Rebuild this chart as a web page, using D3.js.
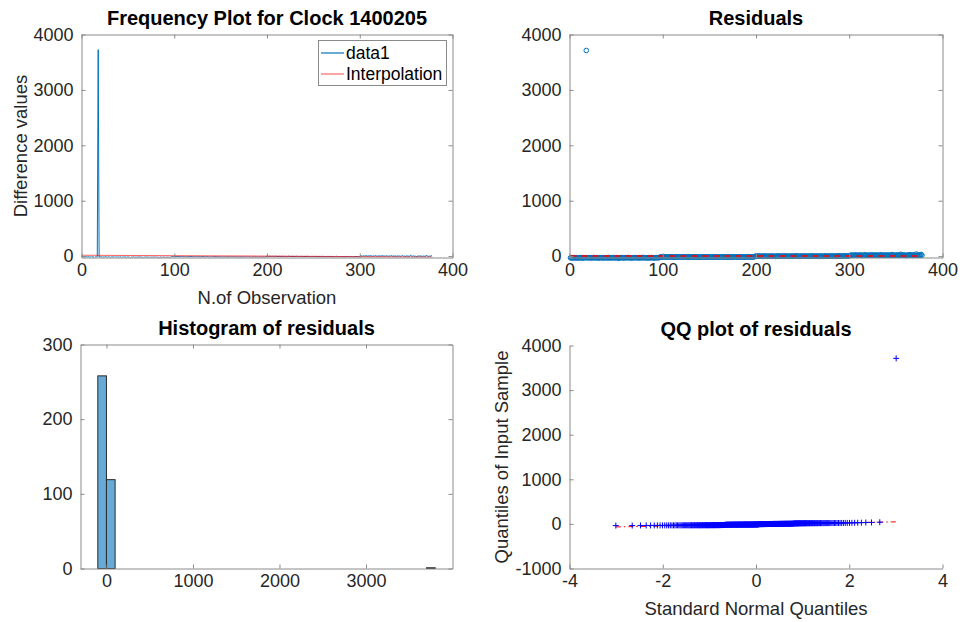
<!DOCTYPE html>
<html>
<head>
<meta charset="utf-8">
<script src="https://cdn.jsdelivr.net/npm/d3@7"></script>
<style>
  body { margin: 0; background: #fff; }
  svg { display: block; }
</style>
</head>
<body>
<svg id="fig" width="963" height="622"></svg>
<script>
// Residuals of the frequency differences after the linear fit (one per observation)
const residuals = [
  -31, -28, -34, -29, -26, -33, -30, -27, -35, -29,
  -32, -25, -30, -37, -28, -31, -27, 3712, -33, -29,
  -26, -30, -34, -28, -31, -24, -29, -32, -27, -30,
  -35, -28, -31, -26, -30, -33, -29, -27, -32, -28,
  -30, -25, -34, -29, -31, -28, -26, -33, -30, -27,
  -29, -32, -38, -28, -30, -26, -31, -29, -33, -27,
  -30, -28, -25, -32, -29, -31, -34, -27, -30, -28,
  -26, -31, -29, -33, -28, -30, -27, -32, -24, -29,
  -31, -28, -30, -35, -27, -29, -32, -26, -30, -28,
  -33, -29, -27, -31, -28, -30,
  -17, -14, -19, -15, -12, -18, -16, -13, -20, -15,
  -16, -11, -18, -14, -17, -15, -21, -13, -16, -19,
  -14, -16, -12, -18, -15, -17, -13, -16, -20, -14,
  -15, -18, -16, -12, -17, -14, -19, -15, -16, -13,
  -17, -15, -22, -14, -16, -18, -12, -15, -17, -16,
  -14, -19, -15, -13, -17, -16, -18, -14, -15, -20,
  -16, -13, -17, -15, -19, -14, -16, -12, -18, -15,
  -17, -14, -16, -19, -13, -15, -18, -16, -14, -17,
  -15, -12, -18, -16, -14, -17, -20, -15, -13, -16,
  -18, -14, -16, -15, -19, -13, -17, -15, -16, -14,
  -18, -15,
  -3, 1, -5, -2, 2, -4, -1, 0, -6, -2,
  3, -3, -1, -5, 1, -2, -4, 2, -3, -1,
  -2, 0, -6, -3, 4, -1, -4, 1, -2, -5,
  2, -3, -1, 3, -4, -2, 0, -5, -1, 1,
  -2, -4, 2, -3, -1, 5, -2, -6, 0, -3,
  1, -1, -4, 3, -2, -3, 0, -5, 2, -1,
  -3, 4, -2, -1, 1, -4, -2, 3, -6, 0,
  -1, 2, -3, -5, 1, -2, 6, -4, -1, 2,
  -2, 0, 3, -3, -1, 1, -4, 4, -2, 2,
  5, -1, 2, -3, 0, 3, -2, 7, 1, -1,
  0, 4,
  14, 17, 11, 19, 13, 16, 21, 12, 15, 18,
  13, 20, 16, 10, 17, 14, 23, 15, 12, 18,
  16, 13, 19, 15, 22, 11, 17, 14, 20, 16,
  12, 18, 15, 25, 13, 17, 14, 19, 16, 11,
  21, 15, 18, 13, 16, 28, 14, 17, 12, 19,
  15, 20, 13, 16, 33, 18, 14, 22, 15, 17,
  9, 16, 19, 14, 26, 15, 18, 13, 21, 16,
  14, 37, 17, 12, 19, 15, 30, 16
];

// Interpolation (linear fit) value at the first and at the last observation
const fitEnds = [16, -19];

// Axis ticks
const observationTicks = [0, 100, 200, 300, 400];
const valueTicks = [0, 1000, 2000, 3000, 4000];
const histXTicks = [0, 1000, 2000, 3000];
const histYTicks = [0, 100, 200, 300];
const qqXTicks = [-4, -2, 0, 2, 4];
const qqYTicks = [-1000, 0, 1000, 2000, 3000, 4000];

// Histogram bin layout
const binWidth = 100;
const binStart = -100;
const binEnd = 3800;

const legendLabels = ["data1", "Interpolation"];

const FONT = '"Liberation Sans", Arial, Helvetica, sans-serif';
const TICK_SIZE = 18;
const LABEL_SIZE = 18.5;
const TITLE_SIZE = 20;
const AXIS = "#8a8a8a";
const TXT = "#262626";
const BLUE = "#0072BD";
const plain = d => String(d);

const svg = d3.select("#fig");

// ---------- shared helpers ----------
function styleAxis(g) {
  g.attr("font-family", FONT).attr("font-size", TICK_SIZE);
  g.select(".domain").attr("stroke", AXIS).attr("stroke-width", 1);
  g.selectAll(".tick line").attr("stroke", AXIS).attr("stroke-width", 1);
  g.selectAll(".tick text").attr("fill", TXT);
}

function frame(p, x, y, xt, yt, boxed) {
  const gb = svg.append("g").attr("transform", `translate(0,${p.y1})`)
    .call(d3.axisBottom(x).tickValues(xt).tickFormat(plain)
      .tickSizeInner(-4).tickSizeOuter(0).tickPadding(6));
  styleAxis(gb);
  const gl = svg.append("g").attr("transform", `translate(${p.x0},0)`)
    .call(d3.axisLeft(y).tickValues(yt).tickFormat(plain)
      .tickSizeInner(-4).tickSizeOuter(0).tickPadding(8));
  styleAxis(gl);
  if (boxed) {
    const gt = svg.append("g").attr("transform", `translate(0,${p.y0})`)
      .call(d3.axisTop(x).tickValues(xt).tickSizeInner(-4).tickSizeOuter(0).tickFormat(""));
    styleAxis(gt);
    const gr = svg.append("g").attr("transform", `translate(${p.x1},0)`)
      .call(d3.axisRight(y).tickValues(yt).tickSizeInner(-4).tickSizeOuter(0).tickFormat(""));
    styleAxis(gr);
  }
}

function title(p, text) {
  svg.append("text").attr("x", (p.x0 + p.x1) / 2).attr("y", p.y0 - 10)
    .attr("text-anchor", "middle").attr("font-family", FONT)
    .attr("font-size", TITLE_SIZE).attr("font-weight", "bold").attr("fill", "#000")
    .text(text);
}

function xLabel(p, text) {
  svg.append("text").attr("x", (p.x0 + p.x1) / 2).attr("y", p.y1 + 46)
    .attr("text-anchor", "middle").attr("font-family", FONT)
    .attr("font-size", LABEL_SIZE).attr("fill", TXT).text(text);
}

function yLabel(p, text, dx) {
  svg.append("text")
    .attr("transform", `translate(${p.x0 - dx},${(p.y0 + p.y1) / 2}) rotate(-90)`)
    .attr("text-anchor", "middle").attr("font-family", FONT)
    .attr("font-size", LABEL_SIZE).attr("fill", TXT).text(text);
}

function clipFor(p, id) {
  svg.append("clipPath").attr("id", id).append("rect")
    .attr("x", p.x0).attr("y", p.y0 - 1).attr("width", p.x1 - p.x0).attr("height", p.y1 - p.y0 + 1);
  return `url(#${id})`;
}

// Inverse of the standard normal CDF (Acklam's rational approximation)
function normInv(pr) {
  const a = [-39.69683028665376, 220.9460984245205, -275.9285104469687, 138.3577518672690, -30.66479806614716, 2.506628277459239];
  const b = [-54.47609879822406, 161.5858368580409, -155.6989798598866, 66.80131188771972, -13.28068155288572];
  const c = [-0.007784894002430293, -0.3223964580411365, -2.400758277161838, -2.549732539343734, 4.374664141464968, 2.938163982698783];
  const d = [0.007784695709041462, 0.3224671290700398, 2.445134137142996, 3.754408661907416];
  const pl = 0.02425;
  let q, r;
  if (pr < pl) {
    q = Math.sqrt(-2 * Math.log(pr));
    return (((((c[0]*q+c[1])*q+c[2])*q+c[3])*q+c[4])*q+c[5]) / ((((d[0]*q+d[1])*q+d[2])*q+d[3])*q+1);
  }
  if (pr <= 1 - pl) {
    q = pr - 0.5; r = q * q;
    return (((((a[0]*r+a[1])*r+a[2])*r+a[3])*r+a[4])*r+a[5])*q / (((((b[0]*r+b[1])*r+b[2])*r+b[3])*r+b[4])*r+1);
  }
  q = Math.sqrt(-2 * Math.log(1 - pr));
  return -(((((c[0]*q+c[1])*q+c[2])*q+c[3])*q+c[4])*q+c[5]) / ((((d[0]*q+d[1])*q+d[2])*q+d[3])*q+1);
}

const n = residuals.length;
const obsIndex = d3.range(1, n + 1);
const fitAt = i => fitEnds[0] + (fitEnds[1] - fitEnds[0]) * (i - 1) / (n - 1);
const observed = residuals.map((r, k) => r + fitAt(k + 1));

// ---------- panel 1: frequency plot ----------
const P1 = { x0: 81.5, x1: 452.5, y0: 34.5, y1: 257.5 };
const x1s = d3.scaleLinear().domain([0, 400]).range([P1.x0, P1.x1]);
const y1s = d3.scaleLinear().domain([-25, 4000]).range([P1.y1, P1.y0]);
const clip1 = clipFor(P1, "c1");

svg.append("path").datum(obsIndex)
  .attr("clip-path", clip1)
  .attr("fill", "none").attr("stroke", BLUE).attr("stroke-width", 1)
  .attr("d", d3.line().x(i => x1s(i)).y(i => y1s(observed[i - 1])));

svg.append("path").datum([1, n])
  .attr("clip-path", clip1)
  .attr("fill", "none").attr("stroke", "#ff0000").attr("stroke-opacity", 0.6).attr("stroke-width", 1.2)
  .attr("d", d3.line().x(i => x1s(i)).y(i => y1s(fitAt(i))));

frame(P1, x1s, y1s, observationTicks, valueTicks, true);
title(P1, "Frequency Plot for Clock 1400205");
xLabel(P1, "N.of Observation");
yLabel(P1, "Difference values", 55);

// legend
const lg = svg.append("g").attr("font-family", FONT).attr("font-size", 17.5);
lg.append("rect").attr("x", 318.5).attr("y", 40.5).attr("width", 128).attr("height", 45)
  .attr("fill", "#fff").attr("stroke", AXIS).attr("stroke-width", 1);
const legendColors = [BLUE, "rgba(255,0,0,0.6)"];
legendLabels.forEach((lab, k) => {
  const yy = 53 + k * 21;
  lg.append("line").attr("x1", 321).attr("x2", 344).attr("y1", yy).attr("y2", yy)
    .attr("stroke", legendColors[k]).attr("stroke-width", 1.2);
  lg.append("text").attr("x", 346).attr("y", yy + 6).attr("fill", "#000").text(lab);
});

// ---------- panel 2: residuals ----------
const P2 = { x0: 569.5, x1: 942.5, y0: 34.5, y1: 257.5 };
const x2s = d3.scaleLinear().domain([0, 400]).range([P2.x0, P2.x1]);
const y2s = d3.scaleLinear().domain([-25, 4000]).range([P2.y1, P2.y0]);

svg.append("g").selectAll("circle").data(obsIndex).join("circle")
  .attr("cx", i => x2s(i)).attr("cy", i => y2s(residuals[i - 1])).attr("r", 2.3)
  .attr("fill", "none").attr("stroke", BLUE).attr("stroke-width", 1);

svg.append("path").datum([1, n])
  .attr("fill", "none").attr("stroke", "#ff0000").attr("stroke-width", 1.5)
  .attr("stroke-dasharray", "6,5")
  .attr("d", d3.line().x(i => x2s(i)).y(() => y2s(0)));

frame(P2, x2s, y2s, observationTicks, valueTicks, true);
title(P2, "Residuals");

// ---------- panel 3: histogram ----------
const P3 = { x0: 80.5, x1: 452.5, y0: 344.5, y1: 568.5 };
const x3s = d3.scaleLinear().domain([-300, 4000]).range([P3.x0, P3.x1]);
const y3s = d3.scaleLinear().domain([0, 300]).range([P3.y1, P3.y0]);
const bins = d3.bin().domain([binStart, binEnd])
  .thresholds(d3.range(binStart + binWidth, binEnd, binWidth))(residuals)
  .filter(b => b.length > 0);

svg.append("g").selectAll("rect").data(bins).join("rect")
  .attr("x", b => x3s(b.x0)).attr("width", b => x3s(b.x1) - x3s(b.x0))
  .attr("y", b => y3s(b.length)).attr("height", b => y3s(0) - y3s(b.length))
  .attr("fill", "#66AAD7").attr("stroke", "#2b2b2b").attr("stroke-width", 1);

frame(P3, x3s, y3s, histXTicks, histYTicks, true);
title(P3, "Histogram of residuals");

// ---------- panel 4: QQ plot ----------
const P4 = { x0: 569.5, x1: 942.5, y0: 345.5, y1: 568.5 };
const x4s = d3.scaleLinear().domain([-4, 4]).range([P4.x0, P4.x1]);
const y4s = d3.scaleLinear().domain([-1000, 4000]).range([P4.y1, P4.y0]);
const sorted = residuals.slice().sort(d3.ascending);
const zq = sorted.map((_, k) => normInv((k + 0.5) / n));

// reference line through the first and third quartiles
const q1 = d3.quantile(sorted, 0.25), q3 = d3.quantile(sorted, 0.75);
const z1 = normInv(0.25), z3 = normInv(0.75);
const slope = (q3 - q1) / (z3 - z1);
const refY = z => q1 + slope * (z - z1);
const zMin = zq[0], zMax = zq[n - 1];
const refLine = d3.line().x(z => x4s(z)).y(z => y4s(refY(z)));
svg.append("path").datum([zMin, zMax])
  .attr("fill", "none").attr("stroke", "#ff0000").attr("stroke-width", 1)
  .attr("stroke-dasharray", "5,3,1.5,3").attr("d", refLine);
svg.append("path").datum([z1, z3])
  .attr("fill", "none").attr("stroke", "#ff0000").attr("stroke-width", 1).attr("d", refLine);

svg.append("g").selectAll("path").data(sorted).join("path")
  .attr("transform", (v, k) => `translate(${x4s(zq[k])},${y4s(v)})`)
  .attr("d", "M-3,0H3M0,-3V3")
  .attr("fill", "none").attr("stroke", "#0000ff").attr("stroke-width", 1);

frame(P4, x4s, y4s, qqXTicks, qqYTicks, false);
title(P4, "QQ plot of residuals");
xLabel(P4, "Standard Normal Quantiles");
yLabel(P4, "Quantiles of Input Sample", 62);
</script>
</body>
</html>
